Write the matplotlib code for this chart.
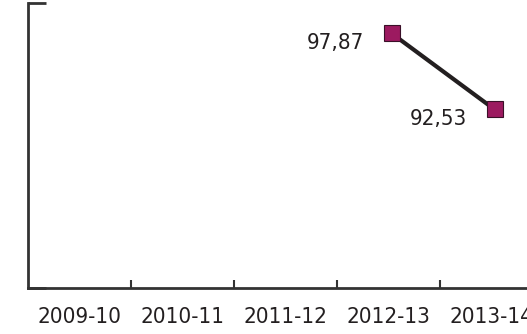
import matplotlib.pyplot as plt

years = ['2009-10', '2010-11', '2011-12', '2012-13', '2013-14']
values = [None, None, None, 97.87, 92.53]
labels = ['97,87', '92,53']

plt.rcParams['font.family'] = ['DejaVu Sans']
plt.rcParams['font.stretch'] = 'condensed'

fig = plt.figure(figsize=(5.27, 3.34), dpi=100)
# axes run past the right edge, the last category is cut off
ax = fig.add_axes([28/527, 46/334, 515/527, 285/334])

xs = [i + 0.03 for i, v in enumerate(values) if v is not None]
ys = [v for v in values if v is not None]
ax.plot(xs, ys, color='#231f20', lw=3, zorder=2)
ax.plot(xs, ys, ls='none', marker='s', ms=11, mfc='#9c1a60',
        mec='#3a1028', mew=0.8, zorder=3)

for x, y, t in zip(xs, ys, labels):
    ax.annotate(t, (x, y), xytext=(-20, -7), textcoords='offset points',
                ha='right', va='center', fontsize=16, color='#231f20')

ax.set_xlim(-0.5, 4.5)
ax.set_ylim(80, 100)
ax.set_xticks([i + 0.5 for i in range(4)])
ax.set_xticklabels([])
ax.set_xticks(range(5), minor=True)
ax.set_xticklabels(years, minor=True, fontsize=16, color='#231f20')
ax.tick_params(axis='x', which='minor', length=0, pad=14)
ax.tick_params(axis='x', which='major', direction='in', length=6, width=1.5, color='#333333')
ax.set_yticks([80, 100])
ax.set_yticklabels([])
ax.tick_params(axis='y', direction='in', length=13, width=2, color='#333333')

for s in ['top', 'right']:
    ax.spines[s].set_visible(False)
for s in ['left', 'bottom']:
    ax.spines[s].set_color('#333333')
    ax.spines[s].set_linewidth(2)

fig.savefig('out.png', dpi=100)
